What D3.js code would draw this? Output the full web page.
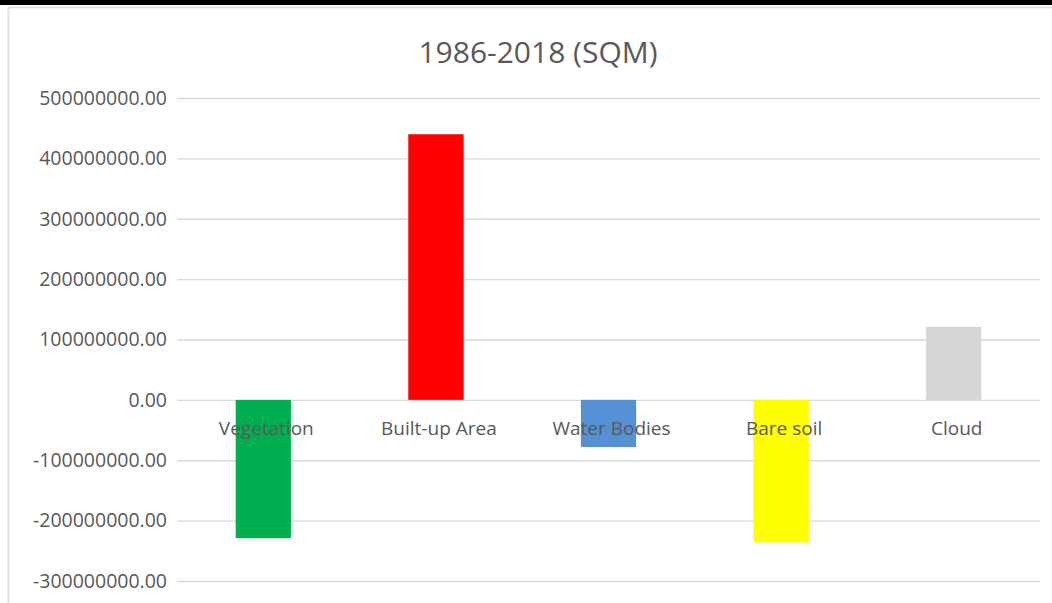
<!DOCTYPE html>
<html><head><meta charset="utf-8">
<script src="https://cdn.jsdelivr.net/npm/d3@7"></script>
<style>body{margin:0;background:#fff}svg{display:block}</style>
</head><body><svg id="c" width="1052" height="603"></svg>
<script>
const categories = ["Vegetation","Built-up Area","Water Bodies","Bare soil","Cloud"];
const values = [-229000000, 440000000, -78000000, -236000000, 121000000];
const colors = ["#00b050","#ff0000","#5590d5","#ffff00","#d6d6d6"];
const tickValues = [-300000000,-200000000,-100000000,0,100000000,200000000,300000000,400000000,500000000];
const title = "1986-2018 (SQM)";

const svg = d3.select("#c");
const W = 1052, H = 603;
svg.append("rect").attr("x",0).attr("y",0).attr("width",W).attr("height",H).attr("fill","#fff");
// frame
svg.append("rect").attr("x",0).attr("y",0).attr("width",W).attr("height",5).attr("fill","#000");
svg.append("rect").attr("x",8.5).attr("y",7.5).attr("width",W+10).attr("height",H+10)
  .attr("fill","none").attr("stroke","#e3e3e3").attr("stroke-width",2);

const left = 177, right = 1040;
const x = d3.scaleBand().domain(categories).range([left, right]).paddingInner(0.68).paddingOuter(0.34);
const y = d3.scaleLinear().domain([-300000000, 500000000]).range([581, 98]);

const loc = d3.formatLocale({decimal:".", thousands:",", grouping:[3], currency:["",""], minus:"-"});
const font = "'Open Sans', sans-serif";
// grid
const gAxis = svg.append("g").attr("transform",`translate(${left},0)`)
  .call(d3.axisLeft(y).tickValues(tickValues).tickSize(-(right-left)).tickPadding(10)
    .tickFormat(d => loc.format(".2f")(d)));
gAxis.select(".domain").remove();
gAxis.selectAll(".tick line").attr("stroke","#d9d9d9").attr("stroke-width",1.3);
gAxis.selectAll(".tick text").attr("fill","#595959").style("font-family",font).style("font-size","19.5px");

// bars
svg.append("g").selectAll("rect").data(categories).join("rect")
  .attr("x", d => x(d))
  .attr("width", x.bandwidth())
  .attr("y", (d,i) => y(Math.max(0, values[i])))
  .attr("height", (d,i) => Math.abs(y(values[i]) - y(0)))
  .attr("fill", (d,i) => colors[i]);

// category labels
svg.append("g").selectAll("text").data(categories).join("text")
  .attr("x", d => x(d) + x.bandwidth()/2 + 3)
  .attr("y", 435)
  .attr("text-anchor","middle")
  .attr("fill","#595959")
  .style("font-family",font).style("font-size","19px")
  .text(d => d);

// title
svg.append("text").attr("x", 538).attr("y", 63).attr("text-anchor","middle")
  .attr("fill","#595959").style("font-family",font).style("font-size","30px").text(title);
</script></body></html>
